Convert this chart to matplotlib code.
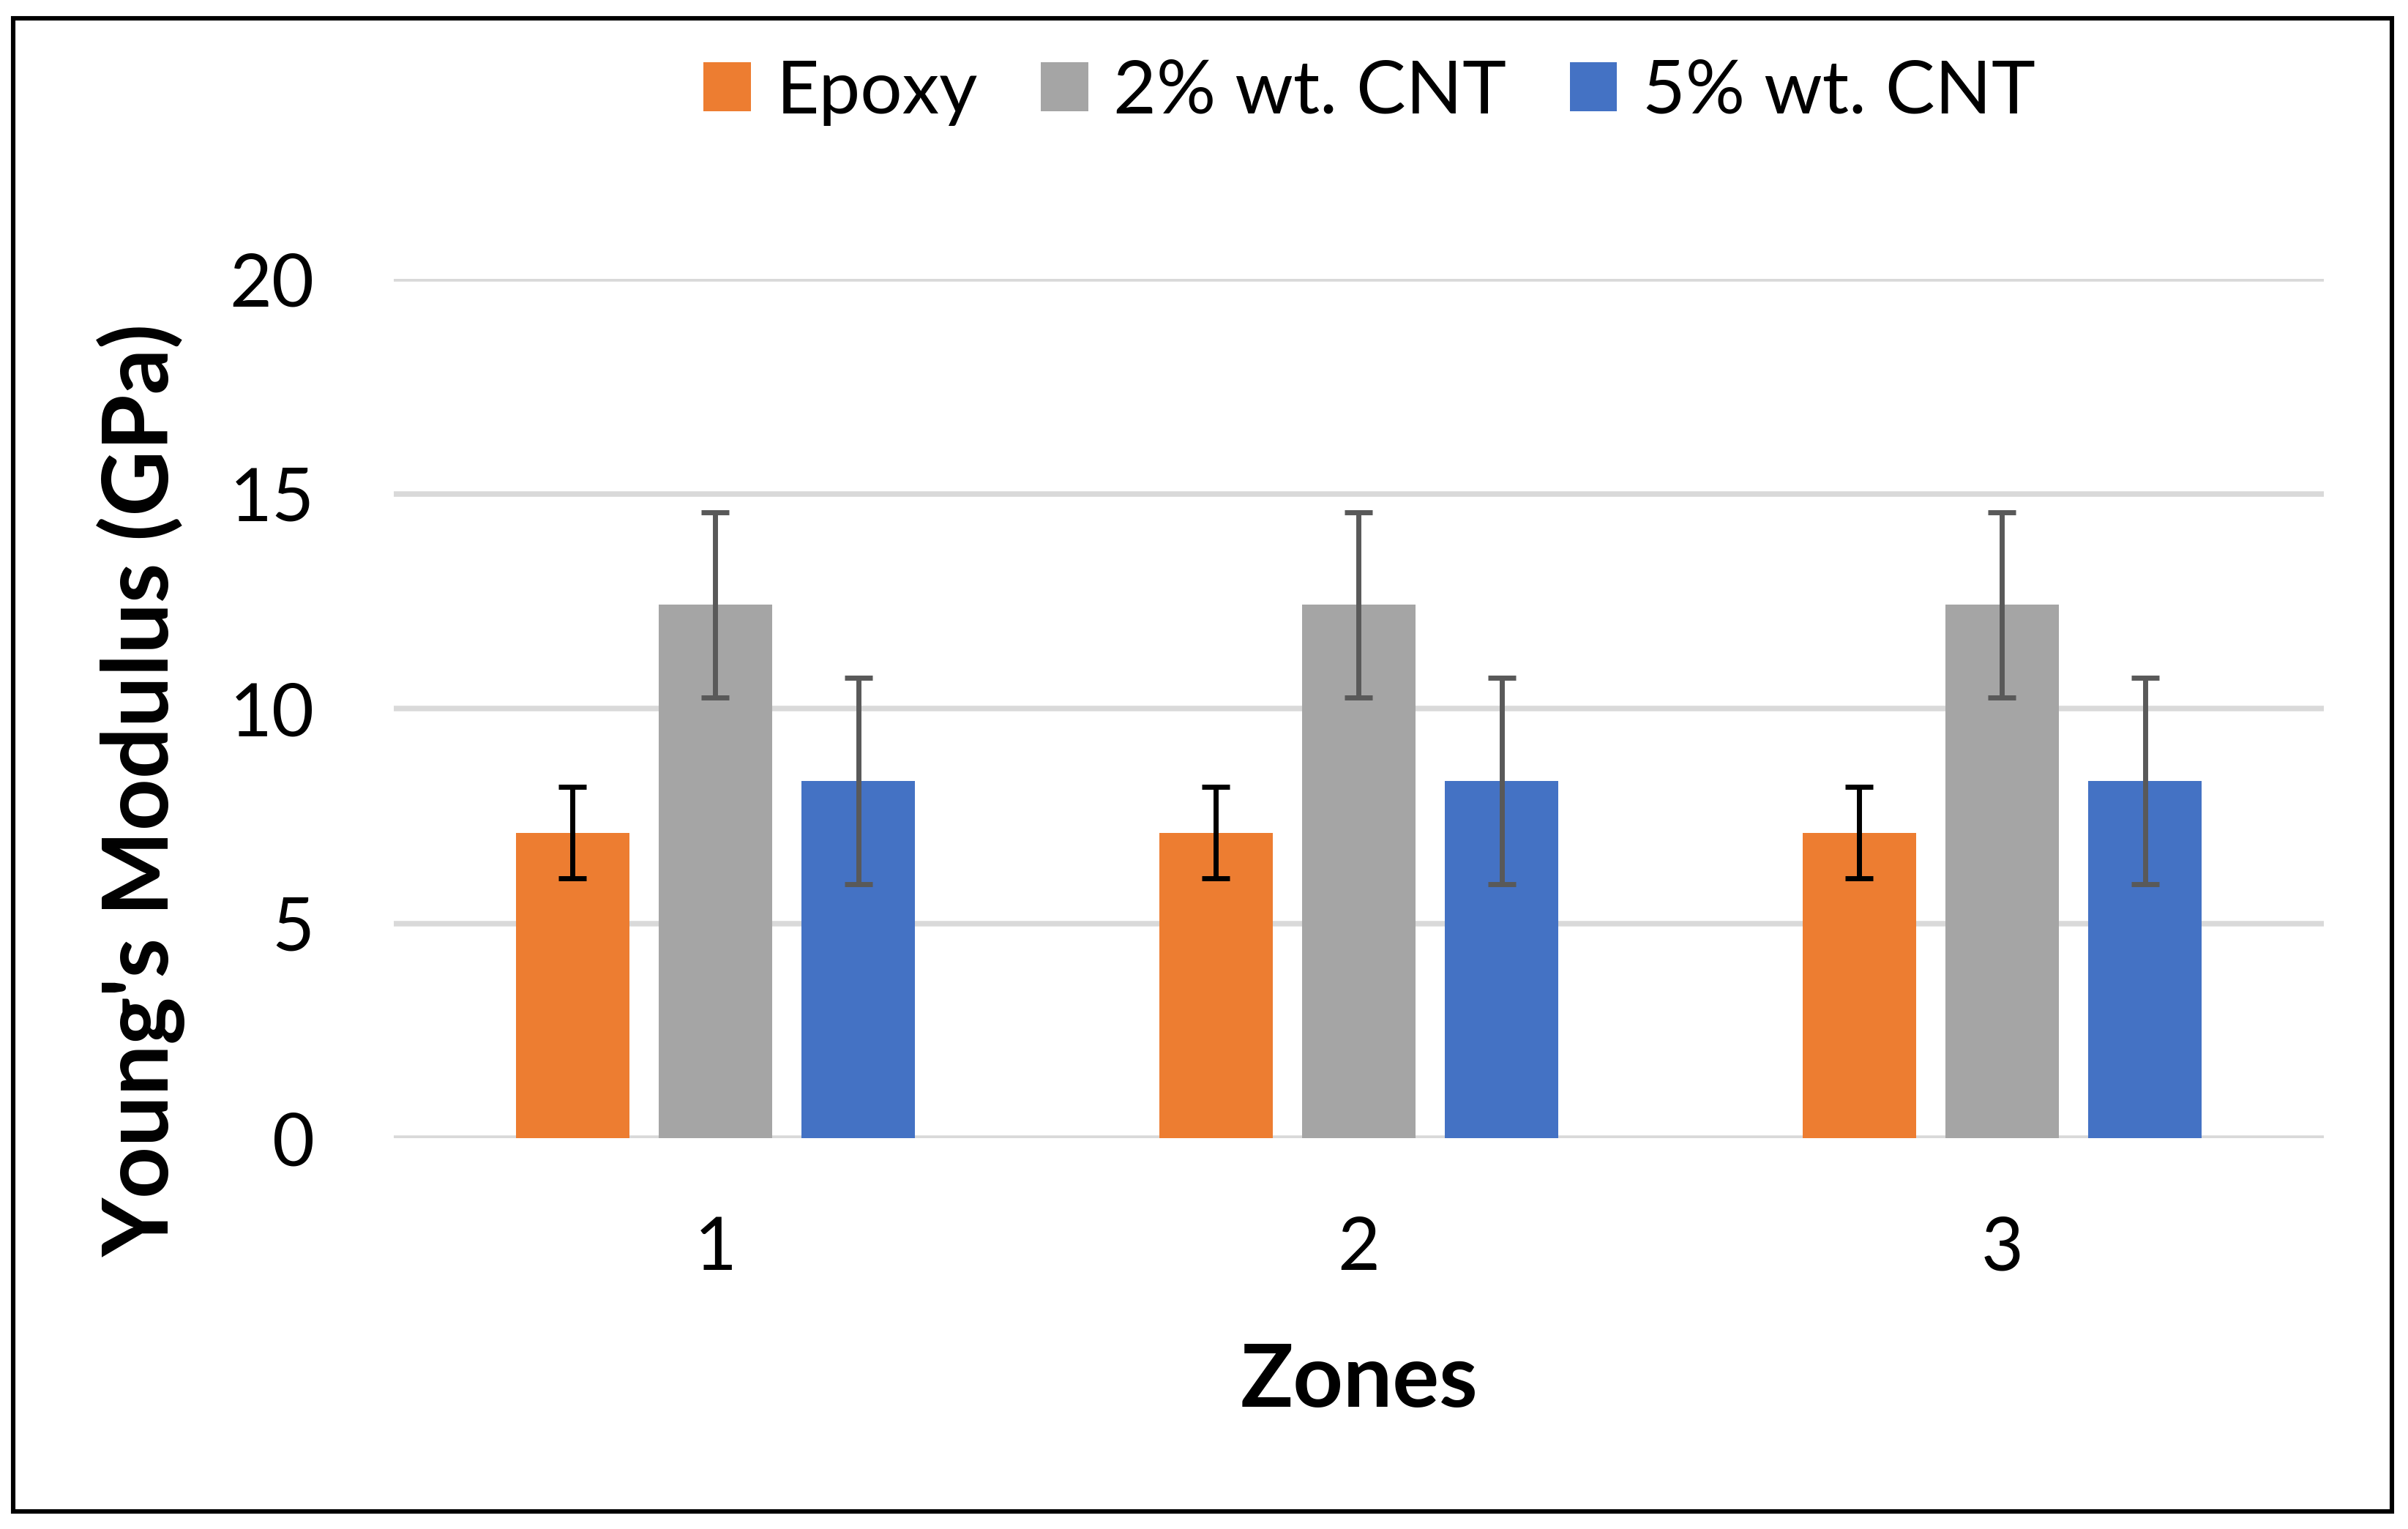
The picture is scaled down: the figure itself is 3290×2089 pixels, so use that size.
import matplotlib
matplotlib.use("Agg")
import matplotlib.pyplot as plt
from matplotlib.patches import Rectangle
import numpy as np

zones = ["1", "2", "3"]
series = ["Epoxy", "2% wt. CNT", "5% wt. CNT"]
epoxy = [7.12, 7.12, 7.12]
epoxy_err = [1.06, 1.06, 1.06]
cnt2 = [12.42, 12.42, 12.42]
cnt2_err = [2.16, 2.16, 2.16]
cnt5 = [8.32, 8.32, 8.32]
cnt5_err = [2.40, 2.40, 2.40]
yticks = [0, 5, 10, 15, 20]

colors = ["#ED7D31", "#A5A5A5", "#4472C4"]
err_colors = ["#000000", "#595959", "#595959"]

plt.rcParams['font.family'] = ['Lato', 'DejaVu Sans']

W, H = 3290, 2089
dpi = 200
fig = plt.figure(figsize=(W / dpi, H / dpi), dpi=dpi)
ax = fig.add_axes([538 / W, 0.2554, (3175 - 538) / W, 0.8174 - 0.2554])

x = np.arange(1, len(zones) + 1)
width = 0.176
step = 0.222
vals = [epoxy, cnt2, cnt5]
errs = [epoxy_err, cnt2_err, cnt5_err]
for i, (v, e) in enumerate(zip(vals, errs)):
    pos = x + (i - 1) * step
    ax.bar(pos, v, width=width, color=colors[i], label=series[i], zorder=2)
    ax.errorbar(pos, v, yerr=e, fmt='none', ecolor=err_colors[i],
                elinewidth=2.5, capsize=6.8, capthick=2.5, zorder=3)

ax.set_xlim(0.5, 3.5)
ax.set_ylim(0, 20)
ax.set_yticks(yticks)
ax.set_yticklabels([str(t) for t in yticks])
ax.set_xticks(x)
ax.set_xticklabels(zones)
ax.tick_params(axis='both', length=0, labelsize=36)
ax.tick_params(axis='y', pad=39)
ax.tick_params(axis='x', pad=38)
ax.yaxis.grid(True, color="#D9D9D9", linewidth=2.7, zorder=0)
ax.set_axisbelow(True)
for s in ax.spines.values():
    s.set_visible(False)

fig.text(0.0587, 0.4835, "Young's Modulus (GPa)", rotation=90, fontsize=44.5,
         fontweight='bold', ha='center', va='center')
fig.text(1857 / W, (H - 1922) / H, "Zones", fontsize=43, fontweight='bold',
         ha='center', va='baseline')

fig.legend(loc='center', bbox_to_anchor=(1871 / W, (H - 126) / H), ncol=3,
           frameon=False, fontsize=36.5, handlelength=0.64, handleheight=0.64,
           handletextpad=0.34, columnspacing=0.85)

fig.patches.append(Rectangle((18 / W, (H - 2065) / H), (3268 - 18) / W, (2065 - 25) / H,
                             transform=fig.transFigure, fill=False,
                             edgecolor='black', linewidth=2.2))

fig.savefig("out.png", dpi=dpi, facecolor='white')
